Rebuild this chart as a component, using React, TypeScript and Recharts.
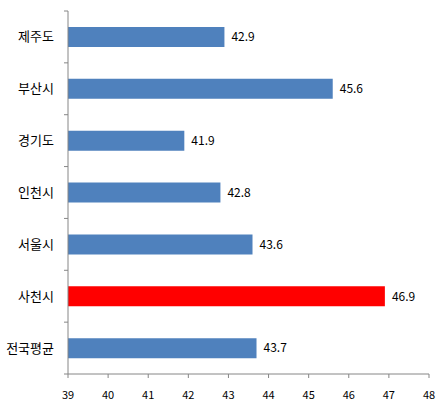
import { BarChart, Bar, XAxis, YAxis, Cell, LabelList } from 'recharts';

const regions = ['제주도', '부산시', '경기도', '인천시', '서울시', '사천시', '전국평균'];
const values = [42.9, 45.6, 41.9, 42.8, 43.6, 46.9, 43.7];
const highlight = '사천시';
const xTicks = [39, 40, 41, 42, 43, 44, 45, 46, 47, 48];

const chartData = regions.map((name, i) => ({ name, value: values[i] }));

const AXIS = '#868686';
const FONT = '"Noto Sans CJK KR", "Noto Sans", sans-serif';

// category label plus tick marks on the band boundaries (like Excel)
function RegionTick(props: any) {
  const { x, y, payload, index, visibleTicksCount } = props;
  const half = payload.offset || 0;
  const ax = x + 14;
  return (
    <g>
      <line x1={ax - 4} x2={ax} y1={y - half} y2={y - half} stroke={AXIS} />
      {index === visibleTicksCount - 1 && (
        <line x1={ax - 4} x2={ax} y1={y + half} y2={y + half} stroke={AXIS} />
      )}
      <text x={x} y={y} dy="0.35em" textAnchor="end" fontSize={13} fill="#000" fontFamily={FONT}>
        {payload.value}
      </text>
    </g>
  );
}

export default function App() {
  return (
    <div style={{ position: 'absolute', left: 0, top: 0, background: '#fff' }}>
      <BarChart
        width={442}
        height={406}
        data={chartData}
        layout="vertical"
        margin={{ top: 11, right: 13, left: 0, bottom: 0 }}
        barSize={20}
      >
        <XAxis
          type="number"
          domain={[39, 48]}
          ticks={xTicks}
          allowDataOverflow
          height={32}
          stroke={AXIS}
          tickSize={4}
          tickMargin={13}
          tick={{ fill: '#000', fontSize: 11, fontFamily: FONT }}
        />
        <YAxis
          type="category"
          dataKey="name"
          width={68}
          stroke={AXIS}
          tickLine={false}
          tickSize={4}
          tickMargin={10}
          interval={0}
          tick={<RegionTick />}
        />
        <Bar dataKey="value" isAnimationActive={false}>
          {chartData.map((d) => (
            <Cell key={d.name} fill={d.name === highlight ? '#FF0000' : '#4F81BD'} />
          ))}
          <LabelList
            dataKey="value"
            position="right"
            offset={7}
            fill="#000"
            fontSize={12}
            fontFamily={FONT}
          />
        </Bar>
      </BarChart>
    </div>
  );
}
